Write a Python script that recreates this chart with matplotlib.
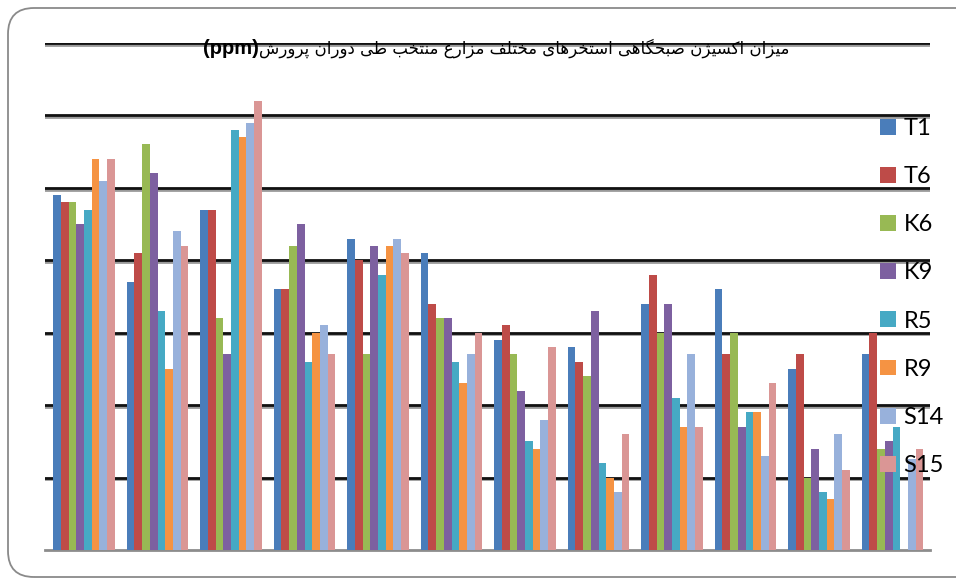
import matplotlib
matplotlib.use("Agg")
import matplotlib.pyplot as plt
import numpy as np
from matplotlib.patches import FancyBboxPatch
from matplotlib.transforms import IdentityTransform
import matplotlib.patheffects as pe

# dissolved oxygen (ppm), one value per sampling round
t1 = [4.9, 3.7, 4.7, 3.6, 4.3, 4.1, 2.9, 2.8, 3.4, 3.6, 2.5, 2.7]
t6 = [4.8, 4.1, 4.7, 3.6, 4.0, 3.4, 3.1, 2.6, 3.8, 2.7, 2.7, 3.0]
k6 = [4.8, 5.6, 3.2, 4.2, 2.7, 3.2, 2.7, 2.4, 3.0, 3.0, 1.0, 1.4]
k9 = [4.5, 5.2, 2.7, 4.5, 4.2, 3.2, 2.2, 3.3, 3.4, 1.7, 1.4, 1.5]
r5 = [4.7, 3.3, 5.8, 2.6, 3.8, 2.6, 1.5, 1.2, 2.1, 1.9, 0.8, 1.7]
r9 = [5.4, 2.5, 5.7, 3.0, 4.2, 2.3, 1.4, 1.0, 1.7, 1.9, 0.7, 0.0]
s14 = [5.1, 4.4, 5.9, 3.1, 4.3, 2.7, 1.8, 0.8, 2.7, 1.3, 1.6, 1.25]
s15 = [5.4, 4.2, 6.2, 2.7, 4.1, 3.0, 2.8, 1.6, 1.7, 2.3, 1.1, 1.4]

names = ["T1", "T6", "K6", "K9", "R5", "R9", "S14", "S15"]
values = [t1, t6, k6, k9, r5, r9, s14, s15]
colors = ["#4A7DBA", "#BE4B48", "#98B954", "#7D60A0", "#46A9C4", "#F59343",
          "#98B1DB", "#DA9695"]

title_fa = "میزان اکسیژن صبحگاهی استخرهای مختلف مزارع منتخب طی دوران پرورش"

# contextual forms: isolated, final, initial, medial (right-joining letters have two)
FORMS = {
    "ا": ("\uFE8D", "\uFE8E"),
    "ب": ("\uFE8F", "\uFE90", "\uFE91", "\uFE92"),
    "پ": ("\uFB56", "\uFB57", "\uFB58", "\uFB59"),
    "ت": ("\uFE95", "\uFE96", "\uFE97", "\uFE98"),
    "ح": ("\uFEA1", "\uFEA2", "\uFEA3", "\uFEA4"),
    "خ": ("\uFEA5", "\uFEA6", "\uFEA7", "\uFEA8"),
    "د": ("\uFEA9", "\uFEAA"),
    "ر": ("\uFEAD", "\uFEAE"),
    "ز": ("\uFEAF", "\uFEB0"),
    "ژ": ("\uFB8A", "\uFB8B"),
    "س": ("\uFEB1", "\uFEB2", "\uFEB3", "\uFEB4"),
    "ش": ("\uFEB5", "\uFEB6", "\uFEB7", "\uFEB8"),
    "ص": ("\uFEB9", "\uFEBA", "\uFEBB", "\uFEBC"),
    "ط": ("\uFEC1", "\uFEC2", "\uFEC3", "\uFEC4"),
    "ع": ("\uFEC9", "\uFECA", "\uFECB", "\uFECC"),
    "ف": ("\uFED1", "\uFED2", "\uFED3", "\uFED4"),
    "ک": ("\uFB8E", "\uFB8F", "\uFB90", "\uFB91"),
    "گ": ("\uFB92", "\uFB93", "\uFB94", "\uFB95"),
    "ل": ("\uFEDD", "\uFEDE", "\uFEDF", "\uFEE0"),
    "م": ("\uFEE1", "\uFEE2", "\uFEE3", "\uFEE4"),
    "ن": ("\uFEE5", "\uFEE6", "\uFEE7", "\uFEE8"),
    "ه": ("\uFEE9", "\uFEEA", "\uFEEB", "\uFEEC"),
    "و": ("\uFEED", "\uFEEE"),
    "ی": ("\uFBFC", "\uFBFD", "\uFBFE", "\uFBFF"),
}


def shape_word(word):
    out = []
    for i, c in enumerate(word):
        f = FORMS.get(c)
        if f is None:
            out.append(c)
            continue
        prev = word[i - 1] if i > 0 else None
        nxt = word[i + 1] if i + 1 < len(word) else None
        join_prev = prev is not None and len(FORMS.get(prev, ())) == 4
        join_next = nxt in FORMS and len(f) == 4
        if join_prev and join_next:
            out.append(f[3])
        elif join_prev:
            out.append(f[1])
        elif join_next:
            out.append(f[2])
        else:
            out.append(f[0])
    return "".join(out)


def visual_rtl(text):
    return " ".join(shape_word(w)[::-1] for w in reversed(text.split()))


fig = plt.figure(figsize=(9.56, 5.78), dpi=100)
ax = fig.add_axes([45 / 956, 28 / 578, 885 / 956, 507 / 578])

n = len(t1)
x = np.arange(n)
w = 0.105
for k, (name, vals, col) in enumerate(zip(names, values, colors)):
    ax.bar(x + (k - 3.5) * w, vals, w, color=col, label=name, zorder=3)

ax.set_xlim(-0.531, 11.51)
ax.set_ylim(0, 7)
ax.set_yticks(range(1, 8))
ax.set_xticks([])
ax.tick_params(axis="y", length=0, labelleft=False)
ax.yaxis.grid(True, color="#111111", linewidth=2.0, zorder=1)
for gl in ax.get_ygridlines():
    gl.set_path_effects([pe.SimpleLineShadow(offset=(0, -1.2), shadow_color="#9a9a9a", alpha=1),
                         pe.Normal()])
ax.set_axisbelow(True)
for s in ["top", "right", "left"]:
    ax.spines[s].set_visible(False)
ax.spines["bottom"].set_color("#8c8c8c")
ax.spines["bottom"].set_linewidth(2)

leg = ax.legend(loc="upper left", bbox_to_anchor=(880 / 956, (578 - 118) / 578),
                bbox_transform=fig.transFigure, frameon=False, borderpad=0,
                borderaxespad=0, handlelength=0.66, handleheight=0.66,
                handletextpad=0.34, labelspacing=1.15,
                prop={"family": "Lato", "size": 17})
leg.set_zorder(5)

# title: Persian part plus bold unit on its left
fig.text(259 / 956, (578 - 48) / 578, visual_rtl(title_fa), ha="left", va="center",
         fontsize=12, family="DejaVu Sans")
fig.text(259 / 956, (578 - 48) / 578, "(ppm)", ha="right", va="center",
         fontsize=14.5, fontweight="bold", family="Liberation Sans")

frame = FancyBboxPatch((8, 1), 985, 569, boxstyle="round,pad=0,rounding_size=26",
                       transform=IdentityTransform(), facecolor="none",
                       edgecolor="#8a8a8a", linewidth=1.3)
fig.add_artist(frame)

fig.savefig("out.png", dpi=100)
